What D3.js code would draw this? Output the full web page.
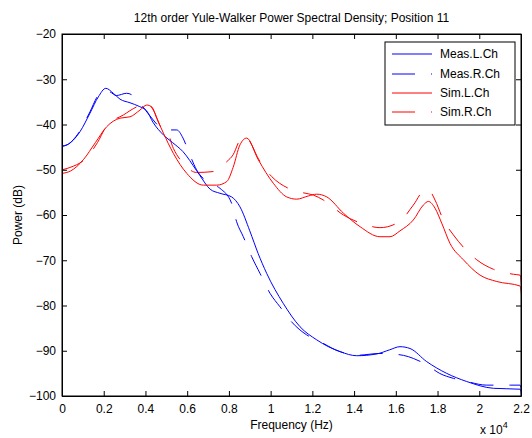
<!DOCTYPE html>
<html><head><meta charset="utf-8">
<script src="https://cdn.jsdelivr.net/npm/d3@7"></script>
<style>
body{margin:0;background:#fff;}
text{font-family:"Liberation Sans",Arial,sans-serif;fill:#000;}
</style></head>
<body><svg id="c" width="532" height="438"></svg>
<script>
const xTicks = [0,2000,4000,6000,8000,10000,12000,14000,16000,18000,20000,22000];
const xTickLabels = ["0","0.2","0.4","0.6","0.8","1","1.2","1.4","1.6","1.8","2","2.2"];
const yTicks = [-100,-90,-80,-70,-60,-50,-40,-30,-20];
const seriesNames = ["Meas.L.Ch","Meas.R.Ch","Sim.L.Ch","Sim.R.Ch"];

const measLFreq = [0,240,860,1340,1740,2100,2460,2780,3260,3700,4060,4360,4860,5300,5800,6450,6600,7100,7570,8130,8530,9000,9400,9810,10600,11410,12210,13330,14130,15090,15700,16200,16680,17480,18440,19400,20680,21960,22050];
const measLdB   = [-44.8,-44.5,-41.6,-37.5,-33.9,-32,-33.1,-34.4,-35.2,-36,-37,-39.5,-42.3,-44,-46,-50.2,-51.2,-54.3,-55.2,-56,-58.2,-63.5,-68.5,-72.9,-79.5,-84.7,-87.6,-90.2,-91.1,-90.7,-89.8,-89.1,-89.5,-92.4,-95,-96.8,-98.3,-98.5,-101];

const measRFreq = [0,240,860,1340,1740,2000,2300,2600,3100,3400,3740,4200,4700,5000,5500,5800,6100,6450,7000,7570,8130,8370,8690,9090,9490,9970,10450,11000,11730,12210,13330,14130,15240,15800,16600,16840,17480,18100,18760,19400,20360,21480,21960,22050];
const measRdB   = [-44.8,-44.5,-41.4,-37.2,-33.5,-32.6,-32.8,-33.6,-33.1,-33.6,-35.3,-38,-40.6,-41.2,-41.2,-43,-46.4,-50,-52.8,-54.1,-57.4,-61.5,-64.8,-69.2,-72.9,-77.3,-80.3,-83.6,-86.5,-87.6,-90.2,-91,-90.6,-90.7,-91.3,-91.7,-93.1,-95,-96.1,-96.8,-97.6,-97.6,-97.6,-100];

const simLFreq = [0,400,1020,1600,2140,2780,3260,3740,4060,4300,4540,4860,5340,5980,6770,7420,7900,8200,8530,8850,9410,10130,10770,11250,11800,12210,12690,13490,14290,15240,15720,16200,16840,17320,17560,17880,18200,18600,19240,20040,20840,21960,22050];
const simLdB   = [-50.8,-50.3,-47.8,-44,-40.5,-38.6,-38.3,-36.8,-35.7,-36.1,-38.6,-41.9,-46.4,-50.8,-53.4,-53.4,-52.6,-49.5,-44.5,-43,-47.8,-53,-56,-56.5,-55.8,-55.4,-56,-59.6,-62.6,-64.8,-64.8,-63.5,-61.1,-57.8,-57,-58.5,-61.8,-66.3,-69.9,-73.3,-74.7,-75.7,-79];

const simRFreq = [0,380,1180,1700,2140,2940,3580,4060,4380,4780,5000,5340,5820,6450,7250,7900,8200,8530,8770,9490,10050,10850,11570,12050,12530,13490,14450,15240,16200,16840,17400,17640,17880,18280,18760,19880,20680,21640,21960,22050];
const simRdB   = [-50,-49.5,-47.3,-44,-40.3,-37.9,-36.1,-35.3,-36.8,-40.8,-41.2,-45.3,-48.6,-50.6,-50.4,-48.2,-46.7,-43.4,-42.7,-48.2,-51.5,-54.1,-55.1,-55.6,-56.7,-60,-62,-62.8,-61.4,-57.8,-54.5,-54.8,-56.7,-61.1,-64.4,-69.9,-72,-73.1,-73.3,-77];

const colors = ["#0000ff","#0000ff","#ff0000","#ff0000"];
const dashes = [null,"23,16",null,"23,16"];
const seriesData = [[measLFreq,measLdB],[measRFreq,measRdB],[simLFreq,simLdB],[simRFreq,simRdB]];

const svg = d3.select("#c");
const L=62, R=521, T=34, B=396;
const x = d3.scaleLinear().domain([0,22000]).range([L,R]);
const y = d3.scaleLinear().domain([-100,-20]).range([B,T]);

svg.append("rect").attr("x",0).attr("y",0).attr("width",532).attr("height",438).attr("fill","#fff");

svg.append("defs").append("clipPath").attr("id","clip").append("rect")
  .attr("x",L).attr("y",T).attr("width",R-L).attr("height",B-T);

const line = d3.line().x(d=>x(d[0])).y(d=>y(d[1])).curve(d3.curveMonotoneX);
const g = svg.append("g").attr("clip-path","url(#clip)");
[1,3,0,2].forEach(i=>{
  const pts = seriesData[i][0].map((f,k)=>[f,seriesData[i][1][k]]);
  g.append("path").attr("d",line(pts)).attr("fill","none")
    .attr("stroke",colors[i]).attr("stroke-width",1)
    .attr("stroke-dasharray",dashes[i]);
});

const fs = 12;
const axB = svg.append("g").attr("transform",`translate(0,${B})`)
  .call(d3.axisBottom(x).tickValues(xTicks).tickFormat((d,i)=>xTickLabels[i]).tickSizeInner(-5).tickSizeOuter(0).tickPadding(8));
const axT = svg.append("g").attr("transform",`translate(0,${T})`)
  .call(d3.axisTop(x).tickValues(xTicks).tickFormat("").tickSizeInner(-5).tickSizeOuter(0));
const axL = svg.append("g").attr("transform",`translate(${L},0)`)
  .call(d3.axisLeft(y).tickValues(yTicks).tickFormat(d3.format("d")).tickSizeInner(-5).tickSizeOuter(0).tickPadding(6));
const axR = svg.append("g").attr("transform",`translate(${R},0)`)
  .call(d3.axisRight(y).tickValues(yTicks).tickFormat("").tickSizeInner(-5).tickSizeOuter(0));
[axB,axT,axL,axR].forEach(a=>{
  a.selectAll("path").attr("stroke","#000").attr("stroke-width",1);
  a.selectAll("line").attr("stroke","#000");
  a.selectAll("text").style("font-size",fs+"px").style("font-family","Liberation Sans, Arial, sans-serif").attr("fill","#000");
});
svg.append("rect").attr("x",L).attr("y",T).attr("width",R-L).attr("height",B-T)
  .attr("fill","none").attr("stroke","#000").attr("stroke-width",1);

svg.append("text").attr("x",(L+R)/2).attr("y",22).attr("text-anchor","middle")
  .style("font-size","12px").text("12th order Yule-Walker Power Spectral Density; Position 11");
svg.append("text").attr("x",(L+R)/2).attr("y",429).attr("text-anchor","middle")
  .style("font-size","12px").text("Frequency (Hz)");
svg.append("text").attr("transform",`translate(22,${(T+B)/2}) rotate(-90)`).attr("text-anchor","middle")
  .style("font-size","12px").text("Power (dB)");
const ex = svg.append("text").attr("x",480).attr("y",434).style("font-size","12px");
ex.append("tspan").text("x 10");
ex.append("tspan").attr("dy",-6).style("font-size","9px").text("4");

const lg = svg.append("g");
lg.append("rect").attr("x",385).attr("y",42).attr("width",130).attr("height",83)
  .attr("fill","#fff").attr("stroke","#000").attr("stroke-width",1);
const legY = [54,74,93,112];
seriesNames.forEach((n,i)=>{
  lg.append("line").attr("x1",392).attr("x2",432).attr("y1",legY[i]).attr("y2",legY[i])
    .attr("stroke",colors[i]).attr("stroke-width",1).attr("stroke-dasharray",dashes[i]);
  lg.append("text").attr("x",440).attr("y",legY[i]+4).style("font-size","12px").text(n);
});
</script></body></html>
